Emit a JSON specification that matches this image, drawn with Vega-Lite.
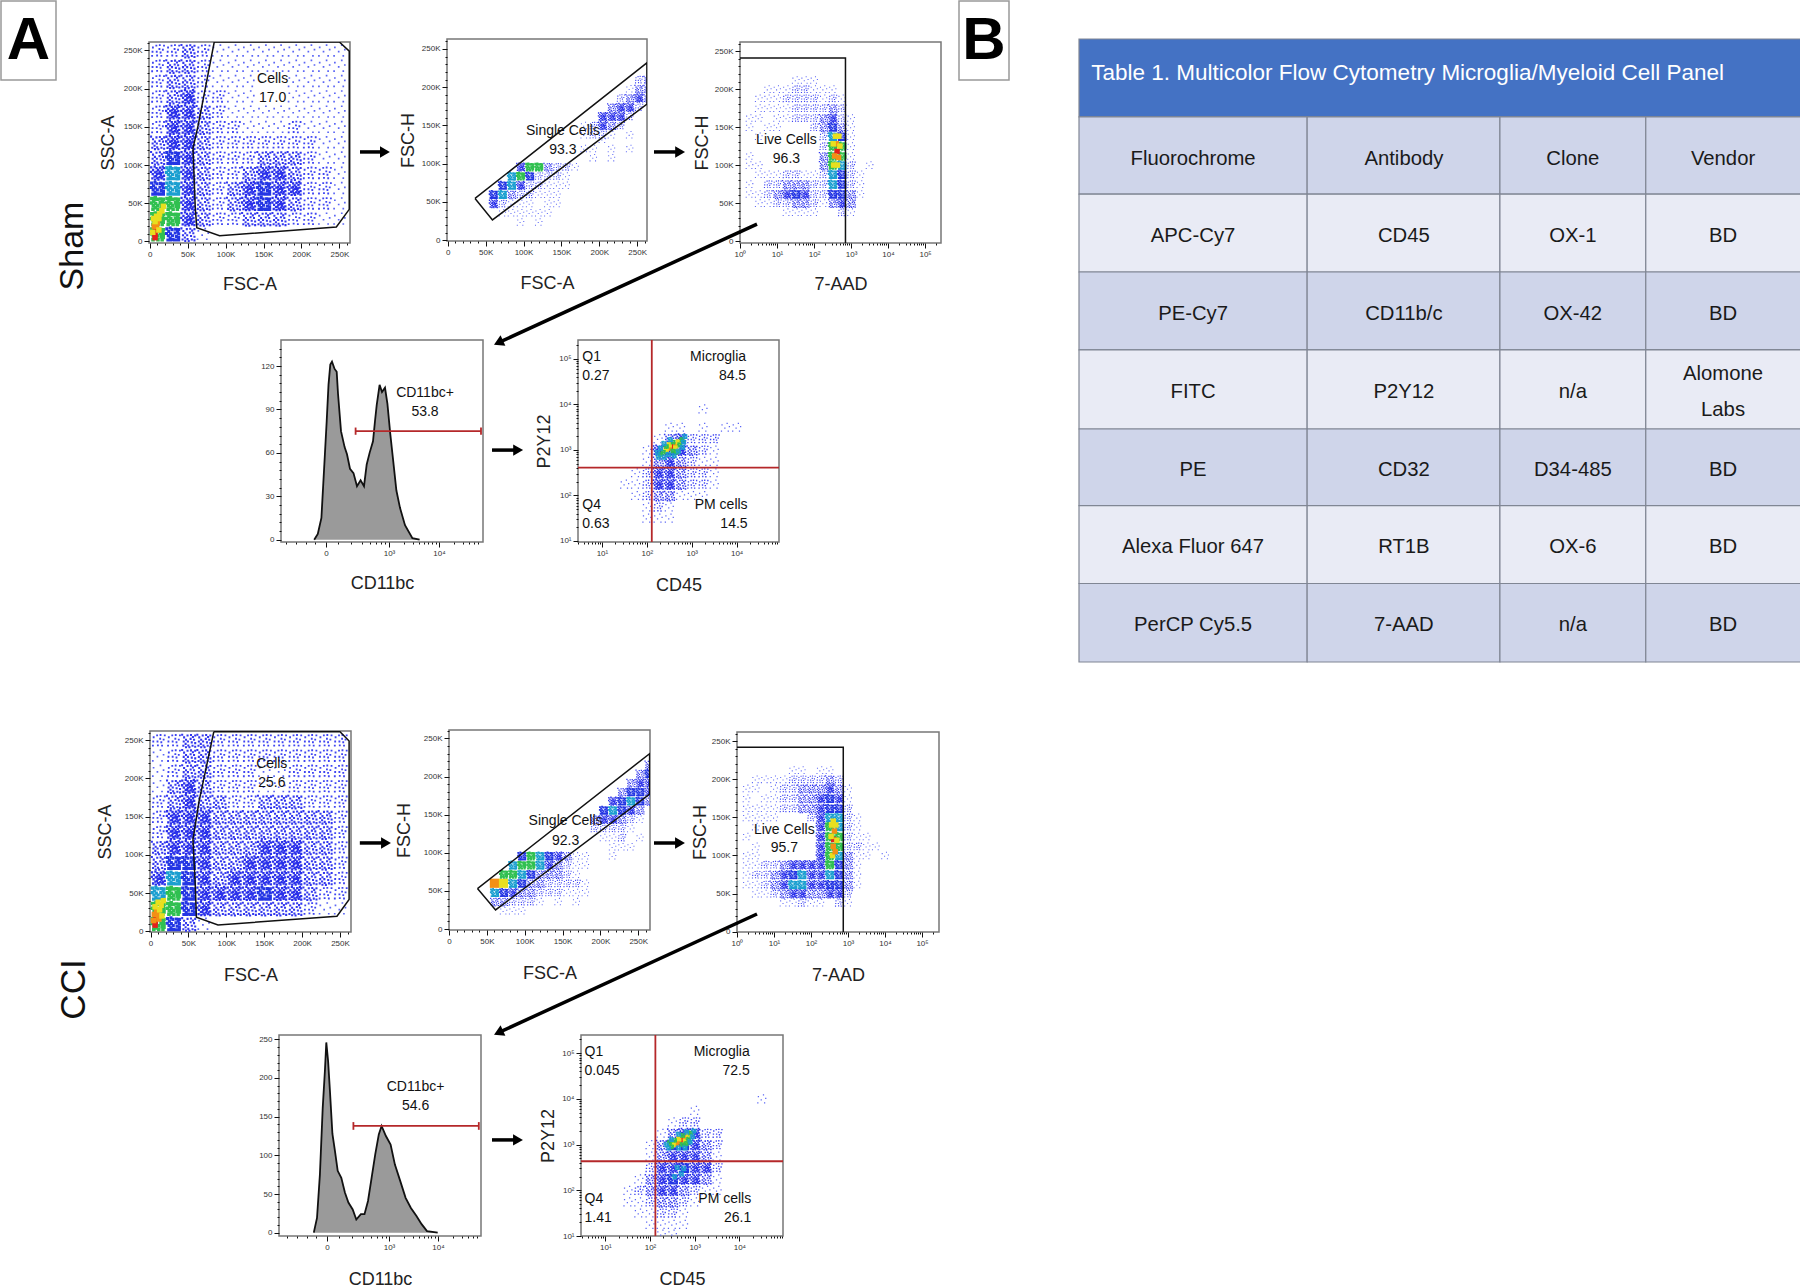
{"$schema":"https://vega.github.io/schema/vega-lite/v6.json","padding":0,"bounds":"flush","spacing":0,
"config":{"view":{"stroke":null},"text":{"font":"Liberation Sans"},"axis":{"grid":false,"domain":false,"labelFont":"Liberation Sans","labelFontSize":8,"labelColor":"#333","labelPadding":2,"labelOverlap":false,"labelFlush":false,"tickColor":"#111","titleFont":"Liberation Sans","titleFontSize":18,"titleFontWeight":"normal","titleColor":"#222"},
"range":{"ordinal":["#5b66f5","#3f45f2","#3338ee","#2a30ea","#2436e4","#1b9fd0","#30c050","#e8df1f","#f39016","#e5201c"],
"symbol":["M-.7 -.5h.22v.22h-.22zM.2 -.8h.22v.22h-.22zM.6 -.2h.22v.22h-.22zM-.2 .05h.22v.22h-.22zM-.8 .6h.22v.22h-.22zM.4 .6h.22v.22h-.22z",
"M-.7 -.5h.24v.24h-.24zM.2 -.8h.24v.24h-.24zM.6 -.2h.24v.24h-.24zM-.2 .05h.24v.24h-.24zM-.8 .6h.24v.24h-.24zM.4 .6h.24v.24h-.24zM-.25 -.75h.24v.24h-.24zM.15 -.3h.24v.24h-.24zM.75 -.75h.24v.24h-.24zM-.75 .05h.24v.24h-.24zM-.15 .55h.24v.24h-.24zM.3 .15h.24v.24h-.24z",
"M-.7 -.5h.27v.27h-.27zM.2 -.8h.27v.27h-.27zM.6 -.2h.27v.27h-.27zM-.2 .05h.27v.27h-.27zM-.8 .6h.27v.27h-.27zM.4 .6h.27v.27h-.27zM-.25 -.75h.27v.27h-.27zM.15 -.3h.27v.27h-.27zM.75 -.75h.27v.27h-.27zM-.75 .05h.27v.27h-.27zM-.15 .55h.27v.27h-.27zM.3 .15h.27v.27h-.27zM-.45 -.2h.27v.27h-.27zM.45 -.55h.27v.27h-.27zM-.5 .35h.27v.27h-.27zM.75 .25h.27v.27h-.27zM-.95 -.85h.27v.27h-.27zM0 .8h.27v.27h-.27zM.75 .72h.27v.27h-.27zM-.45 .78h.27v.27h-.27z",
"M-.7 -.5h.3v.3h-.3zM.2 -.8h.3v.3h-.3zM.6 -.2h.3v.3h-.3zM-.2 .05h.3v.3h-.3zM-.8 .6h.3v.3h-.3zM.4 .6h.3v.3h-.3zM-.25 -.75h.3v.3h-.3zM.15 -.3h.3v.3h-.3zM.72 -.75h.3v.3h-.3zM-.75 .05h.3v.3h-.3zM-.15 .55h.3v.3h-.3zM.3 .15h.3v.3h-.3zM-.45 -.2h.3v.3h-.3zM.45 -.55h.3v.3h-.3zM-.5 .35h.3v.3h-.3zM.72 .25h.3v.3h-.3zM-.95 -.85h.3v.3h-.3zM0 .75h.3v.3h-.3zM.72 .72h.3v.3h-.3zM-.45 .75h.3v.3h-.3zM-.05 -.5h.3v.3h-.3zM.5 .38h.3v.3h-.3zM-.98 -.25h.3v.3h-.3zM-.5 -.95h.3v.3h-.3zM.05 -.02h.3v.3h-.3zM-.3 .3h.3v.3h-.3zM.15 .42h.3v.3h-.3zM.55 -.95h.3v.3h-.3zM.35 -.1h.3v.3h-.3zM-.25 -.3h.3v.3h-.3z",
"M-.7 -.5h.4v.4h-.4zM.2 -.8h.4v.4h-.4zM.6 -.2h.4v.4h-.4zM-.2 .05h.4v.4h-.4zM-.8 .6h.4v.4h-.4zM.4 .6h.4v.4h-.4zM-.25 -.75h.4v.4h-.4zM.15 -.3h.4v.4h-.4zM.6 -.75h.4v.4h-.4zM-.75 .05h.4v.4h-.4zM-.15 .55h.4v.4h-.4zM.3 .15h.4v.4h-.4zM-.45 -.2h.4v.4h-.4zM.45 -.55h.4v.4h-.4zM-.5 .35h.4v.4h-.4zM.6 .25h.4v.4h-.4zM-.95 -.85h.4v.4h-.4zM0 .6h.4v.4h-.4zM.6 .6h.4v.4h-.4zM-.45 .6h.4v.4h-.4zM-.98 -.25h.4v.4h-.4zM-.5 -.95h.4v.4h-.4z",
"M-.7 -.5h.42v.42h-.42zM.2 -.8h.42v.42h-.42zM.6 -.2h.42v.42h-.42zM-.2 .05h.42v.42h-.42zM-.8 .6h.42v.42h-.42zM.4 .6h.42v.42h-.42zM-.25 -.75h.42v.42h-.42zM.15 -.3h.42v.42h-.42zM.58 -.75h.42v.42h-.42zM-.75 .05h.42v.42h-.42zM-.15 .55h.42v.42h-.42zM.3 .15h.42v.42h-.42zM-.45 -.2h.42v.42h-.42zM.45 -.55h.42v.42h-.42zM-.5 .35h.42v.42h-.42zM.58 .25h.42v.42h-.42zM-.95 -.85h.42v.42h-.42zM0 .58h.42v.42h-.42zM.58 .58h.42v.42h-.42zM-.45 .58h.42v.42h-.42zM-.98 -.25h.42v.42h-.42zM-.5 -.95h.42v.42h-.42z",
"M-.7 -.5h.46v.46h-.46zM.2 -.8h.46v.46h-.46zM.54 -.2h.46v.46h-.46zM-.2 .05h.46v.46h-.46zM-.8 .54h.46v.46h-.46zM.4 .54h.46v.46h-.46zM-.25 -.75h.46v.46h-.46zM.15 -.3h.46v.46h-.46zM.54 -.75h.46v.46h-.46zM-.75 .05h.46v.46h-.46zM-.15 .54h.46v.46h-.46zM.3 .15h.46v.46h-.46zM-.45 -.2h.46v.46h-.46zM.45 -.55h.46v.46h-.46zM-.5 .35h.46v.46h-.46zM.54 .25h.46v.46h-.46zM-.95 -.85h.46v.46h-.46zM-.98 -.25h.46v.46h-.46zM-.5 -.95h.46v.46h-.46z",
"square","square","square"]}},
"datasets":{
"s1":[{"x":10,"y":250,"d":2},{"x":30,"y":250,"d":2},{"x":50,"y":250,"d":3},{"x":70,"y":250,"d":2},{"x":90,"y":250,"d":1},{"x":110,"y":250,"d":1},{"x":130,"y":250,"d":1},{"x":150,"y":250,"d":1},{"x":170,"y":250,"d":1},{"x":190,"y":250,"d":1},{"x":210,"y":250,"d":1},{"x":230,"y":250,"d":1},{"x":250,"y":250,"d":1},
{"x":10,"y":230,"d":2},{"x":30,"y":230,"d":3},{"x":50,"y":230,"d":3},{"x":70,"y":230,"d":2},{"x":90,"y":230,"d":1},{"x":110,"y":230,"d":1},{"x":130,"y":230,"d":1},{"x":150,"y":230,"d":1},{"x":170,"y":230,"d":1},{"x":190,"y":230,"d":1},{"x":210,"y":230,"d":1},{"x":230,"y":230,"d":1},{"x":250,"y":230,"d":1},
{"x":10,"y":210,"d":2},{"x":30,"y":210,"d":3},{"x":50,"y":210,"d":3},{"x":70,"y":210,"d":2},{"x":90,"y":210,"d":1},{"x":110,"y":210,"d":1},{"x":130,"y":210,"d":1},{"x":190,"y":210,"d":1},{"x":210,"y":210,"d":1},{"x":230,"y":210,"d":1},{"x":250,"y":210,"d":1},
{"x":10,"y":190,"d":2},{"x":30,"y":190,"d":3},{"x":50,"y":190,"d":4},{"x":70,"y":190,"d":2},{"x":90,"y":190,"d":2},{"x":110,"y":190,"d":1},{"x":130,"y":190,"d":1},{"x":190,"y":190,"d":1},{"x":210,"y":190,"d":1},{"x":230,"y":190,"d":1},{"x":250,"y":190,"d":1},
{"x":10,"y":170,"d":2},{"x":30,"y":170,"d":4},{"x":50,"y":170,"d":4},{"x":70,"y":170,"d":3},{"x":90,"y":170,"d":2},{"x":110,"y":170,"d":1},{"x":130,"y":170,"d":1},{"x":150,"y":170,"d":1},{"x":170,"y":170,"d":1},{"x":190,"y":170,"d":1},{"x":210,"y":170,"d":1},{"x":230,"y":170,"d":1},{"x":250,"y":170,"d":1},
{"x":10,"y":150,"d":2},{"x":30,"y":150,"d":4},{"x":50,"y":150,"d":4},{"x":70,"y":150,"d":3},{"x":90,"y":150,"d":2},{"x":110,"y":150,"d":2},{"x":130,"y":150,"d":1},{"x":150,"y":150,"d":1},{"x":170,"y":150,"d":1},{"x":190,"y":150,"d":2},{"x":210,"y":150,"d":1},{"x":230,"y":150,"d":1},{"x":250,"y":150,"d":1},
{"x":10,"y":130,"d":3},{"x":30,"y":130,"d":4},{"x":50,"y":130,"d":4},{"x":70,"y":130,"d":3},{"x":90,"y":130,"d":2},{"x":110,"y":130,"d":2},{"x":130,"y":130,"d":2},{"x":150,"y":130,"d":2},{"x":170,"y":130,"d":2},{"x":190,"y":130,"d":2},{"x":210,"y":130,"d":2},{"x":230,"y":130,"d":1},{"x":250,"y":130,"d":1},
{"x":10,"y":110,"d":3},{"x":30,"y":110,"d":5},{"x":50,"y":110,"d":4},{"x":70,"y":110,"d":3},{"x":90,"y":110,"d":2},{"x":110,"y":110,"d":2},{"x":130,"y":110,"d":2},{"x":150,"y":110,"d":3},{"x":170,"y":110,"d":3},{"x":190,"y":110,"d":3},{"x":210,"y":110,"d":2},{"x":230,"y":110,"d":1},{"x":250,"y":110,"d":1},
{"x":10,"y":90,"d":4},{"x":30,"y":90,"d":6},{"x":50,"y":90,"d":4},{"x":70,"y":90,"d":3},{"x":90,"y":90,"d":2},{"x":110,"y":90,"d":2},{"x":130,"y":90,"d":3},{"x":150,"y":90,"d":4},{"x":170,"y":90,"d":4},{"x":190,"y":90,"d":3},{"x":210,"y":90,"d":2},{"x":230,"y":90,"d":2},{"x":250,"y":90,"d":1},
{"x":10,"y":70,"d":5},{"x":30,"y":70,"d":6},{"x":50,"y":70,"d":4},{"x":70,"y":70,"d":3},{"x":90,"y":70,"d":2},{"x":110,"y":70,"d":3},{"x":130,"y":70,"d":4},{"x":150,"y":70,"d":5},{"x":170,"y":70,"d":4},{"x":190,"y":70,"d":4},{"x":210,"y":70,"d":2},{"x":230,"y":70,"d":2},{"x":250,"y":70,"d":1},
{"x":10,"y":50,"d":7},{"x":30,"y":50,"d":7},{"x":50,"y":50,"d":4},{"x":70,"y":50,"d":3},{"x":90,"y":50,"d":2},{"x":110,"y":50,"d":3},{"x":130,"y":50,"d":4},{"x":150,"y":50,"d":5},{"x":170,"y":50,"d":4},{"x":190,"y":50,"d":3},{"x":210,"y":50,"d":2},{"x":230,"y":50,"d":2},{"x":250,"y":50,"d":1},
{"x":10,"y":30,"d":7},{"x":30,"y":30,"d":7},{"x":50,"y":30,"d":4},{"x":70,"y":30,"d":3},{"x":90,"y":30,"d":2},{"x":110,"y":30,"d":2},{"x":130,"y":30,"d":3},{"x":150,"y":30,"d":3},{"x":170,"y":30,"d":3},{"x":190,"y":30,"d":2},{"x":210,"y":30,"d":2},{"x":230,"y":30,"d":1},{"x":250,"y":30,"d":1},
{"x":10,"y":10,"d":7},{"x":30,"y":10,"d":5},{"x":50,"y":10,"d":3},{"x":70,"y":10,"d":1}],
"s1c":[{"x":7,"y":5,"d":10},{"x":7,"y":10,"d":10},{"x":8,"y":15,"d":10},{"x":6,"y":20,"d":9},{"x":9,"y":20,"d":9},{"x":10,"y":25,"d":9},{"x":7,"y":26,"d":8},{"x":12,"y":30,"d":8},{"x":9,"y":33,"d":8},{"x":13,"y":36,"d":8},{"x":16,"y":40,"d":8},{"x":18,"y":46,"d":8},{"x":12,"y":15,"d":8},{"x":4,"y":12,"d":8},{"x":5,"y":30,"d":8}],
"c1":[{"x":10,"y":250,"d":2},{"x":30,"y":250,"d":2},{"x":50,"y":250,"d":3},{"x":70,"y":250,"d":3},{"x":90,"y":250,"d":2},{"x":110,"y":250,"d":2},{"x":130,"y":250,"d":2},{"x":150,"y":250,"d":2},{"x":170,"y":250,"d":2},{"x":190,"y":250,"d":2},{"x":210,"y":250,"d":2},{"x":230,"y":250,"d":2},{"x":250,"y":250,"d":2},
{"x":10,"y":230,"d":1},{"x":30,"y":230,"d":2},{"x":50,"y":230,"d":3},{"x":70,"y":230,"d":3},{"x":90,"y":230,"d":2},{"x":110,"y":230,"d":2},{"x":130,"y":230,"d":2},{"x":150,"y":230,"d":2},{"x":170,"y":230,"d":2},{"x":190,"y":230,"d":2},{"x":210,"y":230,"d":2},{"x":230,"y":230,"d":2},{"x":250,"y":230,"d":2},
{"x":10,"y":210,"d":1},{"x":30,"y":210,"d":2},{"x":50,"y":210,"d":3},{"x":70,"y":210,"d":3},{"x":90,"y":210,"d":2},{"x":110,"y":210,"d":2},{"x":130,"y":210,"d":2},{"x":150,"y":210,"d":1},{"x":170,"y":210,"d":1},{"x":190,"y":210,"d":2},{"x":210,"y":210,"d":2},{"x":230,"y":210,"d":2},{"x":250,"y":210,"d":2},
{"x":10,"y":190,"d":1},{"x":30,"y":190,"d":3},{"x":50,"y":190,"d":4},{"x":70,"y":190,"d":3},{"x":90,"y":190,"d":2},{"x":110,"y":190,"d":2},{"x":130,"y":190,"d":2},{"x":150,"y":190,"d":1},{"x":170,"y":190,"d":1},{"x":190,"y":190,"d":2},{"x":210,"y":190,"d":2},{"x":230,"y":190,"d":2},{"x":250,"y":190,"d":2},
{"x":10,"y":170,"d":2},{"x":30,"y":170,"d":3},{"x":50,"y":170,"d":4},{"x":70,"y":170,"d":3},{"x":90,"y":170,"d":3},{"x":110,"y":170,"d":2},{"x":130,"y":170,"d":2},{"x":150,"y":170,"d":3},{"x":170,"y":170,"d":3},{"x":190,"y":170,"d":3},{"x":210,"y":170,"d":2},{"x":230,"y":170,"d":2},{"x":250,"y":170,"d":2},
{"x":10,"y":150,"d":2},{"x":30,"y":150,"d":4},{"x":50,"y":150,"d":4},{"x":70,"y":150,"d":4},{"x":90,"y":150,"d":3},{"x":110,"y":150,"d":3},{"x":130,"y":150,"d":3},{"x":150,"y":150,"d":3},{"x":170,"y":150,"d":3},{"x":190,"y":150,"d":3},{"x":210,"y":150,"d":3},{"x":230,"y":150,"d":3},{"x":250,"y":150,"d":2},
{"x":10,"y":130,"d":2},{"x":30,"y":130,"d":4},{"x":50,"y":130,"d":4},{"x":70,"y":130,"d":4},{"x":90,"y":130,"d":3},{"x":110,"y":130,"d":3},{"x":130,"y":130,"d":3},{"x":150,"y":130,"d":3},{"x":170,"y":130,"d":3},{"x":190,"y":130,"d":3},{"x":210,"y":130,"d":3},{"x":230,"y":130,"d":3},{"x":250,"y":130,"d":2},
{"x":10,"y":110,"d":3},{"x":30,"y":110,"d":4},{"x":50,"y":110,"d":4},{"x":70,"y":110,"d":4},{"x":90,"y":110,"d":3},{"x":110,"y":110,"d":3},{"x":130,"y":110,"d":3},{"x":150,"y":110,"d":4},{"x":170,"y":110,"d":4},{"x":190,"y":110,"d":4},{"x":210,"y":110,"d":3},{"x":230,"y":110,"d":3},{"x":250,"y":110,"d":2},
{"x":10,"y":90,"d":3},{"x":30,"y":90,"d":5},{"x":50,"y":90,"d":5},{"x":70,"y":90,"d":4},{"x":90,"y":90,"d":3},{"x":110,"y":90,"d":3},{"x":130,"y":90,"d":4},{"x":150,"y":90,"d":4},{"x":170,"y":90,"d":4},{"x":190,"y":90,"d":4},{"x":210,"y":90,"d":3},{"x":230,"y":90,"d":3},{"x":250,"y":90,"d":2},
{"x":10,"y":70,"d":4},{"x":30,"y":70,"d":6},{"x":50,"y":70,"d":5},{"x":70,"y":70,"d":4},{"x":90,"y":70,"d":3},{"x":110,"y":70,"d":4},{"x":130,"y":70,"d":4},{"x":150,"y":70,"d":4},{"x":170,"y":70,"d":4},{"x":190,"y":70,"d":4},{"x":210,"y":70,"d":3},{"x":230,"y":70,"d":3},{"x":250,"y":70,"d":2},
{"x":10,"y":50,"d":6},{"x":30,"y":50,"d":7},{"x":50,"y":50,"d":5},{"x":70,"y":50,"d":4},{"x":90,"y":50,"d":4},{"x":110,"y":50,"d":4},{"x":130,"y":50,"d":4},{"x":150,"y":50,"d":5},{"x":170,"y":50,"d":4},{"x":190,"y":50,"d":4},{"x":210,"y":50,"d":3},{"x":230,"y":50,"d":2},{"x":250,"y":50,"d":2},
{"x":10,"y":30,"d":7},{"x":30,"y":30,"d":7},{"x":50,"y":30,"d":5},{"x":70,"y":30,"d":4},{"x":90,"y":30,"d":3},{"x":110,"y":30,"d":3},{"x":130,"y":30,"d":3},{"x":150,"y":30,"d":3},{"x":170,"y":30,"d":3},{"x":190,"y":30,"d":3},{"x":210,"y":30,"d":2},{"x":230,"y":30,"d":1},{"x":250,"y":30,"d":1},
{"x":10,"y":10,"d":7},{"x":30,"y":10,"d":5},{"x":50,"y":10,"d":3},{"x":70,"y":10,"d":1}],
"c1c":[{"x":6,"y":8,"d":10},{"x":6,"y":13,"d":10},{"x":7,"y":18,"d":10},{"x":5,"y":22,"d":9},{"x":9,"y":22,"d":9},{"x":8,"y":28,"d":9},{"x":11,"y":16,"d":9},{"x":12,"y":28,"d":8},{"x":6,"y":32,"d":8},{"x":14,"y":34,"d":8},{"x":10,"y":38,"d":8},{"x":17,"y":40,"d":8},{"x":4,"y":14,"d":9},{"x":15,"y":20,"d":8}],
"s2":[{"x":96,"y":24,"d":1},{"x":120,"y":24,"d":1},{"x":72,"y":36,"d":1},{"x":84,"y":36,"d":1},{"x":96,"y":36,"d":1},{"x":108,"y":36,"d":1},{"x":120,"y":36,"d":1},{"x":132,"y":36,"d":1},
{"x":60,"y":48,"d":4},{"x":72,"y":48,"d":2},{"x":84,"y":48,"d":1},{"x":96,"y":48,"d":1},{"x":108,"y":48,"d":1},{"x":132,"y":48,"d":1},{"x":144,"y":48,"d":1},
{"x":60,"y":60,"d":5},{"x":72,"y":60,"d":6},{"x":84,"y":60,"d":3},{"x":96,"y":60,"d":2},{"x":108,"y":60,"d":2},{"x":120,"y":60,"d":1},{"x":132,"y":60,"d":1},{"x":144,"y":60,"d":1},
{"x":72,"y":72,"d":5},{"x":84,"y":72,"d":6},{"x":96,"y":72,"d":4},{"x":108,"y":72,"d":2},{"x":120,"y":72,"d":2},{"x":132,"y":72,"d":1},{"x":144,"y":72,"d":1},{"x":156,"y":72,"d":1},
{"x":84,"y":84,"d":6},{"x":96,"y":84,"d":7},{"x":108,"y":84,"d":5},{"x":120,"y":84,"d":2},{"x":132,"y":84,"d":2},{"x":144,"y":84,"d":2},{"x":156,"y":84,"d":1},
{"x":96,"y":96,"d":4},{"x":108,"y":96,"d":7},{"x":120,"y":96,"d":7},{"x":132,"y":96,"d":3},{"x":144,"y":96,"d":2},{"x":156,"y":96,"d":2},{"x":168,"y":96,"d":1},
{"x":192,"y":108,"d":1},{"x":216,"y":108,"d":1},{"x":180,"y":120,"d":1},{"x":192,"y":120,"d":1},{"x":216,"y":120,"d":1},{"x":240,"y":120,"d":1},
{"x":204,"y":132,"d":1},{"x":180,"y":138,"d":1},{"x":192,"y":138,"d":2},{"x":204,"y":138,"d":2},{"x":216,"y":138,"d":1},{"x":240,"y":138,"d":1},
{"x":180,"y":150,"d":1},{"x":192,"y":150,"d":2},{"x":204,"y":150,"d":4},{"x":216,"y":150,"d":3},{"x":228,"y":150,"d":2},
{"x":204,"y":162,"d":4},{"x":216,"y":162,"d":4},{"x":228,"y":162,"d":4},{"x":240,"y":162,"d":2},
{"x":216,"y":174,"d":3},{"x":228,"y":174,"d":4},{"x":240,"y":174,"d":4},{"x":252,"y":174,"d":2},
{"x":228,"y":186,"d":2},{"x":240,"y":186,"d":3},{"x":252,"y":186,"d":4},{"x":264,"y":186,"d":3},
{"x":240,"y":198,"d":1},{"x":252,"y":198,"d":3},{"x":264,"y":198,"d":3},{"x":252,"y":210,"d":2},{"x":264,"y":210,"d":3}],
"c2":[{"x":72,"y":24,"d":1},{"x":84,"y":24,"d":1},{"x":96,"y":24,"d":1},
{"x":60,"y":36,"d":3},{"x":72,"y":36,"d":3},{"x":84,"y":36,"d":2},{"x":96,"y":36,"d":2},{"x":108,"y":36,"d":2},{"x":120,"y":36,"d":1},{"x":144,"y":36,"d":1},{"x":168,"y":36,"d":1},
{"x":60,"y":48,"d":6},{"x":72,"y":48,"d":5},{"x":84,"y":48,"d":4},{"x":96,"y":48,"d":3},{"x":108,"y":48,"d":3},{"x":120,"y":48,"d":2},{"x":132,"y":48,"d":2},{"x":144,"y":48,"d":2},{"x":156,"y":48,"d":1},{"x":168,"y":48,"d":1},{"x":180,"y":48,"d":1},
{"x":60,"y":60,"d":9},{"x":72,"y":60,"d":8},{"x":84,"y":60,"d":6},{"x":96,"y":60,"d":5},{"x":108,"y":60,"d":3},{"x":120,"y":60,"d":3},{"x":132,"y":60,"d":2},{"x":144,"y":60,"d":2},{"x":156,"y":60,"d":2},{"x":168,"y":60,"d":2},{"x":180,"y":60,"d":1},
{"x":72,"y":72,"d":7},{"x":84,"y":72,"d":7},{"x":96,"y":72,"d":6},{"x":108,"y":72,"d":5},{"x":120,"y":72,"d":3},{"x":132,"y":72,"d":3},{"x":144,"y":72,"d":3},{"x":156,"y":72,"d":2},{"x":168,"y":72,"d":1},
{"x":84,"y":84,"d":6},{"x":96,"y":84,"d":7},{"x":108,"y":84,"d":7},{"x":120,"y":84,"d":6},{"x":132,"y":84,"d":4},{"x":144,"y":84,"d":3},{"x":156,"y":84,"d":2},{"x":168,"y":84,"d":1},{"x":180,"y":84,"d":1},
{"x":96,"y":96,"d":5},{"x":108,"y":96,"d":7},{"x":120,"y":96,"d":6},{"x":132,"y":96,"d":5},{"x":144,"y":96,"d":4},{"x":156,"y":96,"d":3},{"x":168,"y":96,"d":1},{"x":180,"y":96,"d":1},{"x":216,"y":96,"d":1},
{"x":216,"y":108,"d":1},{"x":228,"y":108,"d":1},{"x":240,"y":108,"d":1},
{"x":204,"y":120,"d":1},{"x":216,"y":120,"d":1},{"x":228,"y":120,"d":2},{"x":252,"y":120,"d":1},
{"x":192,"y":132,"d":2},{"x":204,"y":132,"d":2},{"x":216,"y":132,"d":2},{"x":228,"y":132,"d":2},{"x":240,"y":132,"d":1},
{"x":192,"y":144,"d":3},{"x":204,"y":144,"d":4},{"x":216,"y":144,"d":4},{"x":228,"y":144,"d":3},{"x":240,"y":144,"d":2},{"x":252,"y":144,"d":1},
{"x":204,"y":156,"d":5},{"x":216,"y":156,"d":6},{"x":228,"y":156,"d":5},{"x":240,"y":156,"d":4},{"x":252,"y":156,"d":3},
{"x":216,"y":168,"d":4},{"x":228,"y":168,"d":5},{"x":240,"y":168,"d":6},{"x":252,"y":168,"d":5},{"x":264,"y":168,"d":3},
{"x":228,"y":180,"d":3},{"x":240,"y":180,"d":5},{"x":252,"y":180,"d":5},{"x":264,"y":180,"d":4},
{"x":240,"y":192,"d":3},{"x":252,"y":192,"d":4},{"x":264,"y":192,"d":4},{"x":252,"y":204,"d":3},{"x":264,"y":204,"d":5},{"x":264,"y":216,"d":3}],
"s3":[{"x":32,"y":212,"d":1},{"x":56,"y":212,"d":1},{"x":100,"y":212,"d":1},
{"x":5.6,"y":200,"d":1},{"x":10,"y":200,"d":1},{"x":18,"y":200,"d":1},{"x":32,"y":200,"d":2},{"x":56,"y":200,"d":2},{"x":100,"y":200,"d":1},{"x":178,"y":200,"d":1},{"x":316,"y":200,"d":1},
{"x":3.2,"y":188,"d":1},{"x":5.6,"y":188,"d":1},{"x":10,"y":188,"d":1},{"x":18,"y":188,"d":2},{"x":32,"y":188,"d":2},{"x":56,"y":188,"d":2},{"x":100,"y":188,"d":2},{"x":178,"y":188,"d":1},{"x":316,"y":188,"d":2},{"x":562,"y":188,"d":1},
{"x":3.2,"y":175,"d":1},{"x":5.6,"y":175,"d":1},{"x":10,"y":175,"d":1},{"x":18,"y":175,"d":1},{"x":32,"y":175,"d":2},{"x":56,"y":175,"d":2},{"x":100,"y":175,"d":2},{"x":178,"y":175,"d":2},{"x":316,"y":175,"d":3},{"x":562,"y":175,"d":2},
{"x":1.8,"y":162,"d":1},{"x":3.2,"y":162,"d":1},{"x":10,"y":162,"d":1},{"x":18,"y":162,"d":1},{"x":32,"y":162,"d":2},{"x":56,"y":162,"d":2},{"x":100,"y":162,"d":2},{"x":178,"y":162,"d":3},{"x":316,"y":162,"d":4},{"x":562,"y":162,"d":2},{"x":1000,"y":162,"d":1},
{"x":1.8,"y":150,"d":1},{"x":5.6,"y":150,"d":1},{"x":10,"y":150,"d":1},{"x":100,"y":150,"d":2},{"x":178,"y":150,"d":3},{"x":316,"y":150,"d":5},{"x":562,"y":150,"d":3},{"x":1000,"y":150,"d":1},
{"x":3.2,"y":138,"d":1},{"x":178,"y":138,"d":2},{"x":316,"y":138,"d":6},{"x":562,"y":138,"d":5},{"x":1000,"y":138,"d":1},
{"x":178,"y":125,"d":2},{"x":316,"y":125,"d":7},{"x":562,"y":125,"d":7},{"x":1000,"y":125,"d":1},
{"x":1.8,"y":112,"d":1},{"x":178,"y":112,"d":3},{"x":316,"y":112,"d":7},{"x":562,"y":112,"d":7},{"x":1000,"y":112,"d":1},
{"x":1.8,"y":100,"d":1},{"x":3.2,"y":100,"d":1},{"x":178,"y":100,"d":3},{"x":316,"y":100,"d":7},{"x":562,"y":100,"d":6},{"x":1000,"y":100,"d":2},{"x":3162,"y":100,"d":1},
{"x":3.2,"y":88,"d":1},{"x":5.6,"y":88,"d":1},{"x":10,"y":88,"d":1},{"x":18,"y":88,"d":2},{"x":32,"y":88,"d":2},{"x":56,"y":88,"d":1},{"x":100,"y":88,"d":1},{"x":178,"y":88,"d":2},{"x":316,"y":88,"d":6},{"x":562,"y":88,"d":5},{"x":1000,"y":88,"d":2},{"x":1778,"y":88,"d":1},
{"x":1.8,"y":75,"d":1},{"x":5.6,"y":75,"d":2},{"x":10,"y":75,"d":2},{"x":18,"y":75,"d":3},{"x":32,"y":75,"d":3},{"x":56,"y":75,"d":3},{"x":100,"y":75,"d":2},{"x":178,"y":75,"d":2},{"x":316,"y":75,"d":6},{"x":562,"y":75,"d":5},{"x":1000,"y":75,"d":2},{"x":1778,"y":75,"d":1},
{"x":1.8,"y":62,"d":1},{"x":3.2,"y":62,"d":1},{"x":5.6,"y":62,"d":2},{"x":10,"y":62,"d":3},{"x":18,"y":62,"d":4},{"x":32,"y":62,"d":5},{"x":56,"y":62,"d":4},{"x":100,"y":62,"d":2},{"x":178,"y":62,"d":2},{"x":316,"y":62,"d":5},{"x":562,"y":62,"d":5},{"x":1000,"y":62,"d":3},{"x":1778,"y":62,"d":1},
{"x":3.2,"y":50,"d":1},{"x":5.6,"y":50,"d":1},{"x":10,"y":50,"d":2},{"x":18,"y":50,"d":2},{"x":32,"y":50,"d":3},{"x":56,"y":50,"d":3},{"x":100,"y":50,"d":2},{"x":178,"y":50,"d":1},{"x":316,"y":50,"d":3},{"x":562,"y":50,"d":4},{"x":1000,"y":50,"d":3},
{"x":18,"y":38,"d":1},{"x":32,"y":38,"d":1},{"x":56,"y":38,"d":1},{"x":100,"y":38,"d":1},{"x":562,"y":38,"d":2},{"x":1000,"y":38,"d":1}],
"s3c":[{"x":420,"y":118,"d":10},{"x":400,"y":128,"d":9},{"x":460,"y":110,"d":9},{"x":430,"y":100,"d":8},{"x":380,"y":138,"d":8},{"x":500,"y":125,"d":8},{"x":360,"y":112,"d":9},{"x":330,"y":128,"d":8},{"x":470,"y":138,"d":8},{"x":340,"y":100,"d":8}],
"c3":[{"x":32,"y":212,"d":1},{"x":56,"y":212,"d":1},{"x":178,"y":212,"d":1},{"x":316,"y":212,"d":1},
{"x":3.2,"y":200,"d":1},{"x":5.6,"y":200,"d":1},{"x":10,"y":200,"d":1},{"x":18,"y":200,"d":1},{"x":32,"y":200,"d":2},{"x":56,"y":200,"d":2},{"x":100,"y":200,"d":2},{"x":178,"y":200,"d":2},{"x":316,"y":200,"d":3},{"x":562,"y":200,"d":2},
{"x":1.8,"y":188,"d":1},{"x":3.2,"y":188,"d":1},{"x":10,"y":188,"d":1},{"x":18,"y":188,"d":2},{"x":32,"y":188,"d":2},{"x":56,"y":188,"d":3},{"x":100,"y":188,"d":3},{"x":178,"y":188,"d":3},{"x":316,"y":188,"d":4},{"x":562,"y":188,"d":3},{"x":1000,"y":188,"d":1},
{"x":1.8,"y":175,"d":1},{"x":5.6,"y":175,"d":1},{"x":10,"y":175,"d":1},{"x":18,"y":175,"d":2},{"x":32,"y":175,"d":2},{"x":56,"y":175,"d":3},{"x":100,"y":175,"d":3},{"x":178,"y":175,"d":4},{"x":316,"y":175,"d":5},{"x":562,"y":175,"d":4},{"x":1000,"y":175,"d":1},
{"x":1.8,"y":162,"d":1},{"x":3.2,"y":162,"d":1},{"x":5.6,"y":162,"d":1},{"x":10,"y":162,"d":1},{"x":18,"y":162,"d":2},{"x":32,"y":162,"d":2},{"x":56,"y":162,"d":3},{"x":100,"y":162,"d":3},{"x":178,"y":162,"d":4},{"x":316,"y":162,"d":5},{"x":562,"y":162,"d":5},{"x":1000,"y":162,"d":2},
{"x":1.8,"y":150,"d":1},{"x":3.2,"y":150,"d":1},{"x":5.6,"y":150,"d":1},{"x":10,"y":150,"d":1},{"x":100,"y":150,"d":2},{"x":178,"y":150,"d":4},{"x":316,"y":150,"d":6},{"x":562,"y":150,"d":6},{"x":1000,"y":150,"d":2},{"x":1778,"y":150,"d":1},
{"x":3.2,"y":138,"d":1},{"x":178,"y":138,"d":4},{"x":316,"y":138,"d":7},{"x":562,"y":138,"d":6},{"x":1000,"y":138,"d":2},{"x":1778,"y":138,"d":1},
{"x":1.8,"y":125,"d":1},{"x":178,"y":125,"d":4},{"x":316,"y":125,"d":7},{"x":562,"y":125,"d":7},{"x":1000,"y":125,"d":2},{"x":1778,"y":125,"d":1},{"x":3162,"y":125,"d":1},
{"x":3.2,"y":112,"d":1},{"x":178,"y":112,"d":4},{"x":316,"y":112,"d":7},{"x":562,"y":112,"d":7},{"x":1000,"y":112,"d":2},{"x":1778,"y":112,"d":2},{"x":3162,"y":112,"d":1},{"x":5623,"y":112,"d":1},
{"x":1.8,"y":100,"d":1},{"x":3.2,"y":100,"d":1},{"x":178,"y":100,"d":4},{"x":316,"y":100,"d":7},{"x":562,"y":100,"d":6},{"x":1000,"y":100,"d":3},{"x":1778,"y":100,"d":1},{"x":3162,"y":100,"d":1},{"x":10000,"y":100,"d":1},
{"x":1.8,"y":88,"d":1},{"x":3.2,"y":88,"d":1},{"x":5.6,"y":88,"d":2},{"x":10,"y":88,"d":2},{"x":18,"y":88,"d":3},{"x":32,"y":88,"d":4},{"x":56,"y":88,"d":4},{"x":100,"y":88,"d":4},{"x":178,"y":88,"d":4},{"x":316,"y":88,"d":7},{"x":562,"y":88,"d":5},{"x":1000,"y":88,"d":3},{"x":1778,"y":88,"d":1},
{"x":1.8,"y":75,"d":1},{"x":3.2,"y":75,"d":2},{"x":5.6,"y":75,"d":2},{"x":10,"y":75,"d":3},{"x":18,"y":75,"d":4},{"x":32,"y":75,"d":5},{"x":56,"y":75,"d":6},{"x":100,"y":75,"d":4},{"x":178,"y":75,"d":4},{"x":316,"y":75,"d":6},{"x":562,"y":75,"d":5},{"x":1000,"y":75,"d":3},{"x":1778,"y":75,"d":1},
{"x":1.8,"y":62,"d":1},{"x":3.2,"y":62,"d":1},{"x":5.6,"y":62,"d":2},{"x":10,"y":62,"d":3},{"x":18,"y":62,"d":4},{"x":32,"y":62,"d":6},{"x":56,"y":62,"d":6},{"x":100,"y":62,"d":4},{"x":178,"y":62,"d":4},{"x":316,"y":62,"d":5},{"x":562,"y":62,"d":5},{"x":1000,"y":62,"d":3},{"x":1778,"y":62,"d":1},
{"x":3.2,"y":50,"d":1},{"x":5.6,"y":50,"d":1},{"x":10,"y":50,"d":2},{"x":18,"y":50,"d":3},{"x":32,"y":50,"d":4},{"x":56,"y":50,"d":4},{"x":100,"y":50,"d":3},{"x":178,"y":50,"d":3},{"x":316,"y":50,"d":4},{"x":562,"y":50,"d":4},{"x":1000,"y":50,"d":2},
{"x":18,"y":38,"d":1},{"x":32,"y":38,"d":1},{"x":56,"y":38,"d":2},{"x":100,"y":38,"d":1},{"x":178,"y":38,"d":1},{"x":562,"y":38,"d":2},{"x":1000,"y":38,"d":1}],
"c3c":[{"x":410,"y":121,"d":10},{"x":400,"y":112,"d":9},{"x":430,"y":132,"d":9},{"x":380,"y":100,"d":8},{"x":450,"y":105,"d":9},{"x":400,"y":145,"d":8},{"x":350,"y":125,"d":8},{"x":500,"y":120,"d":8},{"x":360,"y":140,"d":8},{"x":470,"y":140,"d":8}],
"s5":[{"x":1778,"y":8000,"d":1},
{"x":316,"y":3162,"d":1},{"x":562,"y":3162,"d":1},{"x":1778,"y":3162,"d":1},{"x":5623,"y":3162,"d":1},{"x":10000,"y":3162,"d":1},
{"x":178,"y":1778,"d":1},{"x":316,"y":1778,"d":3},{"x":562,"y":1778,"d":4},{"x":1000,"y":1778,"d":2},{"x":1778,"y":1778,"d":2},{"x":3162,"y":1778,"d":2},
{"x":100,"y":1000,"d":1},{"x":178,"y":1000,"d":4},{"x":316,"y":1000,"d":5},{"x":562,"y":1000,"d":4},{"x":1000,"y":1000,"d":3},{"x":1778,"y":1000,"d":2},{"x":3162,"y":1000,"d":1},
{"x":100,"y":562,"d":1},{"x":178,"y":562,"d":3},{"x":316,"y":562,"d":4},{"x":562,"y":562,"d":3},{"x":1000,"y":562,"d":2},{"x":1778,"y":562,"d":1},{"x":3162,"y":562,"d":1},
{"x":56,"y":316,"d":1},{"x":100,"y":316,"d":2},{"x":178,"y":316,"d":4},{"x":316,"y":316,"d":4},{"x":562,"y":316,"d":3},{"x":1000,"y":316,"d":2},{"x":1778,"y":316,"d":2},{"x":3162,"y":316,"d":1},
{"x":32,"y":178,"d":1},{"x":56,"y":178,"d":1},{"x":100,"y":178,"d":2},{"x":178,"y":178,"d":4},{"x":316,"y":178,"d":4},{"x":562,"y":178,"d":3},{"x":1000,"y":178,"d":2},{"x":1778,"y":178,"d":2},{"x":3162,"y":178,"d":1},
{"x":56,"y":100,"d":1},{"x":100,"y":100,"d":2},{"x":178,"y":100,"d":3},{"x":316,"y":100,"d":3},{"x":562,"y":100,"d":1},{"x":1000,"y":100,"d":1},{"x":1778,"y":100,"d":1},
{"x":100,"y":56,"d":1},{"x":178,"y":56,"d":2},{"x":316,"y":56,"d":1},{"x":100,"y":32,"d":1},{"x":178,"y":32,"d":1},{"x":316,"y":32,"d":1}],
"s5c":[{"x":378,"y":1185,"d":10},{"x":316,"y":1100,"d":9},{"x":440,"y":1300,"d":9},{"x":316,"y":1300,"d":8},{"x":440,"y":1100,"d":8},{"x":270,"y":1000,"d":8},{"x":500,"y":1500,"d":8},{"x":230,"y":900,"d":7},{"x":270,"y":1200,"d":7},{"x":380,"y":1500,"d":7},{"x":540,"y":1300,"d":7},{"x":380,"y":950,"d":7},{"x":200,"y":800,"d":7},{"x":600,"y":1700,"d":7},{"x":450,"y":900,"d":7},{"x":200,"y":1100,"d":6},{"x":240,"y":1400,"d":6},{"x":330,"y":1700,"d":6},{"x":620,"y":1150,"d":6},{"x":500,"y":950,"d":6},{"x":300,"y":800,"d":6},{"x":700,"y":2000,"d":6},{"x":650,"y":1500,"d":6},{"x":170,"y":900,"d":6},{"x":180,"y":700,"d":6},{"x":240,"y":700,"d":6},{"x":400,"y":750,"d":6}],
"c5":[{"x":31623,"y":10000,"d":1},{"x":1000,"y":5623,"d":1},
{"x":316,"y":3162,"d":1},{"x":562,"y":3162,"d":2},{"x":1000,"y":3162,"d":2},
{"x":178,"y":1778,"d":1},{"x":316,"y":1778,"d":3},{"x":562,"y":1778,"d":4},{"x":1000,"y":1778,"d":4},{"x":1778,"y":1778,"d":2},{"x":3162,"y":1778,"d":2},
{"x":100,"y":1000,"d":1},{"x":178,"y":1000,"d":3},{"x":316,"y":1000,"d":5},{"x":562,"y":1000,"d":5},{"x":1000,"y":1000,"d":4},{"x":1778,"y":1000,"d":3},{"x":3162,"y":1000,"d":2},
{"x":100,"y":562,"d":1},{"x":178,"y":562,"d":3},{"x":316,"y":562,"d":4},{"x":562,"y":562,"d":4},{"x":1000,"y":562,"d":4},{"x":1778,"y":562,"d":3},{"x":3162,"y":562,"d":1},
{"x":100,"y":316,"d":2},{"x":178,"y":316,"d":4},{"x":316,"y":316,"d":4},{"x":562,"y":316,"d":5},{"x":1000,"y":316,"d":4},{"x":1778,"y":316,"d":4},{"x":3162,"y":316,"d":2},
{"x":56,"y":178,"d":1},{"x":100,"y":178,"d":3},{"x":178,"y":178,"d":4},{"x":316,"y":178,"d":5},{"x":562,"y":178,"d":4},{"x":1000,"y":178,"d":4},{"x":1778,"y":178,"d":3},{"x":3162,"y":178,"d":1},
{"x":32,"y":100,"d":1},{"x":56,"y":100,"d":2},{"x":100,"y":100,"d":3},{"x":178,"y":100,"d":4},{"x":316,"y":100,"d":4},{"x":562,"y":100,"d":3},{"x":1000,"y":100,"d":2},{"x":1778,"y":100,"d":1},{"x":3162,"y":100,"d":1},
{"x":32,"y":56,"d":1},{"x":56,"y":56,"d":1},{"x":100,"y":56,"d":2},{"x":178,"y":56,"d":3},{"x":316,"y":56,"d":3},{"x":562,"y":56,"d":2},{"x":1000,"y":56,"d":1},
{"x":56,"y":32,"d":1},{"x":100,"y":32,"d":1},{"x":178,"y":32,"d":2},{"x":316,"y":32,"d":2},{"x":562,"y":32,"d":1},
{"x":100,"y":18,"d":1},{"x":178,"y":18,"d":1},{"x":316,"y":18,"d":1},{"x":562,"y":18,"d":1},{"x":178,"y":11,"d":1},{"x":316,"y":11,"d":1}],
"c5c":[{"x":525,"y":1265,"d":10},{"x":440,"y":1150,"d":9},{"x":620,"y":1400,"d":9},{"x":380,"y":1050,"d":9},{"x":440,"y":1350,"d":8},{"x":620,"y":1180,"d":8},{"x":330,"y":1000,"d":8},{"x":720,"y":1600,"d":8},{"x":350,"y":1250,"d":7},{"x":520,"y":1000,"d":7},{"x":300,"y":900,"d":7},{"x":720,"y":1300,"d":7},{"x":800,"y":1800,"d":7},{"x":530,"y":1600,"d":7},{"x":270,"y":1100,"d":7},{"x":640,"y":1050,"d":7},{"x":260,"y":850,"d":6},{"x":300,"y":1300,"d":6},{"x":430,"y":1700,"d":6},{"x":880,"y":1500,"d":6},{"x":950,"y":2000,"d":6},{"x":430,"y":850,"d":6},{"x":780,"y":1150,"d":6},{"x":230,"y":1000,"d":6},{"x":650,"y":1900,"d":6},{"x":600,"y":850,"d":6},{"x":400,"y":320,"d":6},{"x":560,"y":300,"d":6},{"x":350,"y":200,"d":6},{"x":500,"y":230,"d":6}],
"hs":[{"x":-11.8,"y":0},{"x":-8.2,"y":4},{"x":-4.6,"y":15},{"x":-1.1,"y":59},{"x":0.7,"y":82},{"x":2.5,"y":107},{"x":4.3,"y":121},{"x":6,"y":123},{"x":8.6,"y":118},{"x":10.7,"y":116},{"x":12,"y":101},{"x":15,"y":75},{"x":18.6,"y":64},{"x":21,"y":59},{"x":24,"y":49},{"x":27.5,"y":46},{"x":31,"y":37},{"x":34.6,"y":41},{"x":38,"y":37},{"x":40.7,"y":52},{"x":43.6,"y":60},{"x":47,"y":68},{"x":49,"y":82},{"x":50.7,"y":93},{"x":53.6,"y":107},{"x":56,"y":102},{"x":59,"y":105},{"x":61.4,"y":94},{"x":64.3,"y":73},{"x":66.8,"y":57},{"x":70.4,"y":34},{"x":74,"y":22},{"x":79,"y":10},{"x":86.4,"y":1},{"x":93.6,"y":0}],
"hc":[{"x":-13.2,"y":0},{"x":-10,"y":19},{"x":-7.1,"y":75},{"x":-4.3,"y":161},{"x":-2.1,"y":209},{"x":-0.7,"y":246},{"x":1.1,"y":222},{"x":2.9,"y":184},{"x":5.4,"y":128},{"x":7.9,"y":106},{"x":10.7,"y":80},{"x":14.3,"y":71},{"x":17.9,"y":52},{"x":21.4,"y":39},{"x":25.7,"y":30},{"x":29.3,"y":17},{"x":33.9,"y":24},{"x":37.5,"y":24},{"x":41,"y":41},{"x":44.6,"y":71},{"x":48.2,"y":101},{"x":51.8,"y":127},{"x":54.6,"y":138},{"x":58.9,"y":125},{"x":63.6,"y":114},{"x":67.9,"y":88},{"x":73.2,"y":67},{"x":78.6,"y":45},{"x":83.9,"y":32},{"x":89.3,"y":22},{"x":94.6,"y":11},{"x":100,"y":2},{"x":110.7,"y":0}],
"tb":[{"x":0,"x2":100,"y":0,"y2":12.5,"b":"h","t":"","cx":50,"cy":6},
{"x":0,"x2":31.6,"y":12.5,"y2":24.9,"b":"a","t":"Fluorochrome","cx":15.8,"cy":19.2},{"x":31.6,"x2":58.3,"y":12.5,"y2":24.9,"b":"a","t":"Antibody","cx":45,"cy":19.2},{"x":58.3,"x2":78.5,"y":12.5,"y2":24.9,"b":"a","t":"Clone","cx":68.4,"cy":19.2},{"x":78.5,"x2":100,"y":12.5,"y2":24.9,"b":"a","t":"Vendor","cx":89.2,"cy":19.2},
{"x":0,"x2":31.6,"y":24.9,"y2":37.4,"b":"b","t":"APC-Cy7","cx":15.8,"cy":31.6},{"x":31.6,"x2":58.3,"y":24.9,"y2":37.4,"b":"b","t":"CD45","cx":45,"cy":31.6},{"x":58.3,"x2":78.5,"y":24.9,"y2":37.4,"b":"b","t":"OX-1","cx":68.4,"cy":31.6},{"x":78.5,"x2":100,"y":24.9,"y2":37.4,"b":"b","t":"BD","cx":89.2,"cy":31.6},
{"x":0,"x2":31.6,"y":37.4,"y2":49.9,"b":"a","t":"PE-Cy7","cx":15.8,"cy":44.1},{"x":31.6,"x2":58.3,"y":37.4,"y2":49.9,"b":"a","t":"CD11b/c","cx":45,"cy":44.1},{"x":58.3,"x2":78.5,"y":37.4,"y2":49.9,"b":"a","t":"OX-42","cx":68.4,"cy":44.1},{"x":78.5,"x2":100,"y":37.4,"y2":49.9,"b":"a","t":"BD","cx":89.2,"cy":44.1},
{"x":0,"x2":31.6,"y":49.9,"y2":62.6,"b":"b","t":"FITC","cx":15.8,"cy":56.6},{"x":31.6,"x2":58.3,"y":49.9,"y2":62.6,"b":"b","t":"P2Y12","cx":45,"cy":56.6},{"x":58.3,"x2":78.5,"y":49.9,"y2":62.6,"b":"b","t":"n/a","cx":68.4,"cy":56.6},{"x":78.5,"x2":100,"y":49.9,"y2":62.6,"b":"b","t":"Alomone","cx":89.2,"cy":53.8},{"x":78.5,"x2":100,"y":49.9,"y2":62.6,"b":"b","t":"Labs","cx":89.2,"cy":59.6},
{"x":0,"x2":31.6,"y":62.6,"y2":74.9,"b":"a","t":"PE","cx":15.8,"cy":69.2},{"x":31.6,"x2":58.3,"y":62.6,"y2":74.9,"b":"a","t":"CD32","cx":45,"cy":69.2},{"x":58.3,"x2":78.5,"y":62.6,"y2":74.9,"b":"a","t":"D34-485","cx":68.4,"cy":69.2},{"x":78.5,"x2":100,"y":62.6,"y2":74.9,"b":"a","t":"BD","cx":89.2,"cy":69.2},
{"x":0,"x2":31.6,"y":74.9,"y2":87.4,"b":"b","t":"Alexa Fluor 647","cx":15.8,"cy":81.6},{"x":31.6,"x2":58.3,"y":74.9,"y2":87.4,"b":"b","t":"RT1B","cx":45,"cy":81.6},{"x":58.3,"x2":78.5,"y":74.9,"y2":87.4,"b":"b","t":"OX-6","cx":68.4,"cy":81.6},{"x":78.5,"x2":100,"y":74.9,"y2":87.4,"b":"b","t":"BD","cx":89.2,"cy":81.6},
{"x":0,"x2":31.6,"y":87.4,"y2":100,"b":"a","t":"PerCP Cy5.5","cx":15.8,"cy":94.1},{"x":31.6,"x2":58.3,"y":87.4,"y2":100,"b":"a","t":"7-AAD","cx":45,"cy":94.1},{"x":58.3,"x2":78.5,"y":87.4,"y2":100,"b":"a","t":"n/a","cx":68.4,"cy":94.1},{"x":78.5,"x2":100,"y":87.4,"y2":100,"b":"a","t":"BD","cx":89.2,"cy":94.1}]
},
"data":{"values":[{"a":1}]},
"vconcat":[
{"bounds":"flush","spacing":0,"hconcat":[
{"width":55,"height":79,"view":{"stroke":"#999","strokeWidth":1.5},"data":{"values":[{"t":"A"}]},"mark":{"type":"text","fontSize":60,"fontWeight":"bold","color":"#000"},"encoding":{"text":{"field":"t"}}},
{"width":903,"height":1,"mark":{"type":"rect","opacity":0},"encoding":{}},
{"width":50,"height":79,"view":{"stroke":"#999","strokeWidth":1.5},"data":{"values":[{"t":"B"}]},"mark":{"type":"text","fontSize":60,"fontWeight":"bold","color":"#000"},"encoding":{"text":{"field":"t"}}}]},
{"width":1,"height":38,"mark":{"type":"rect","opacity":0},"encoding":{}},
{"bounds":"flush","spacing":0,"hconcat":[
{"width":446,"height":1,"mark":{"type":"rect","opacity":0},"encoding":{}},
{"width":200,"height":202,"view":{"stroke":"#777","strokeWidth":1.5},"encoding":{"x":{"field":"x","type":"quantitative","scale":{"domain":[-1,263]},"axis":{"title":"FSC-A","titlePadding":18,"values":[0,10,20,30,40,50,60,70,80,90,100,110,120,130,140,150,160,170,180,190,200,210,220,230,240,250,260],"labelExpr":"datum.value%50==0?(datum.value==0?'0':datum.value+'K'):''","tickSize":{"condition":{"test":"datum.value%50==0","value":5},"value":2}}},"y":{"field":"y","type":"quantitative","scale":{"domain":[-1,263]},"axis":{"title":"FSC-H","titlePadding":4,"values":[0,10,20,30,40,50,60,70,80,90,100,110,120,130,140,150,160,170,180,190,200,210,220,230,240,250,260],"labelExpr":"datum.value%50==0?(datum.value==0?'0':datum.value+'K'):''","tickSize":{"condition":{"test":"datum.value%50==0","value":5},"value":2}}}},
"layer":[{"data":{"name":"s2"},"mark":{"type":"point","filled":true,"size":85,"clip":true,"strokeWidth":0,"opacity":1},"encoding":{"color":{"field":"d","type":"ordinal","legend":null},"shape":{"field":"d","type":"ordinal","legend":null}}},
{"data":{"values":[{"x":36,"y":54.6,"o":1},{"x":263,"y":232,"o":2},{"x":263,"y":178,"o":3},{"x":59,"y":26.6,"o":4},{"x":36,"y":54.6,"o":5}]},"mark":{"type":"line","color":"#111","strokeWidth":1.5,"clip":true},"encoding":{"order":{"field":"o"}}},
{"data":{"values":[{"x":152,"y":143,"t":"Single Cells"},{"x":152,"y":118,"t":"93.3"}]},"mark":{"type":"text","fontSize":14,"color":"#111"},"encoding":{"text":{"field":"t"}}}]},
{"width":432,"height":1,"mark":{"type":"rect","opacity":0},"encoding":{}},
{"width":722,"height":623,"data":{"name":"tb"},"layer":[
{"mark":{"type":"rect","stroke":"#808694","strokeWidth":1.2},"encoding":{"x":{"field":"x","type":"quantitative","scale":{"domain":[0,100]},"axis":null},"x2":{"field":"x2"},"y":{"field":"y","type":"quantitative","scale":{"domain":[100,0]},"axis":null},"y2":{"field":"y2"},"fill":{"field":"b","type":"nominal","scale":{"domain":["h","a","b"],"range":["#4472c4","#cfd5ea","#e9ebf5"]},"legend":null}}},
{"mark":{"type":"text","fontSize":20.3,"color":"#1a1a1a"},"encoding":{"x":{"field":"cx","type":"quantitative","axis":null},"y":{"field":"cy","type":"quantitative","axis":null},"text":{"field":"t"}}},
{"data":{"values":[{"x":1.7,"y":5.4,"t":"Table 1. Multicolor Flow Cytometry Microglia/Myeloid  Cell Panel"}]},"mark":{"type":"text","align":"left","fontSize":22.5,"color":"#fff"},"encoding":{"x":{"field":"x","type":"quantitative","axis":null},"y":{"field":"y","type":"quantitative","axis":null},"text":{"field":"t"}}}]}]},
{"width":1,"height":3,"mark":{"type":"rect","opacity":0},"encoding":{}},
{"bounds":"flush","spacing":0,"hconcat":[
{"width":148,"height":1,"mark":{"type":"rect","opacity":0},"encoding":{}},
{"width":201,"height":201,"view":{"stroke":"#777","strokeWidth":1.5},"encoding":{"x":{"field":"x","type":"quantitative","scale":{"domain":[-1,264]},"axis":{"title":"FSC-A","titlePadding":17,"values":[0,10,20,30,40,50,60,70,80,90,100,110,120,130,140,150,160,170,180,190,200,210,220,230,240,250,260],"labelExpr":"datum.value%50==0?(datum.value==0?'0':datum.value+'K'):''","tickSize":{"condition":{"test":"datum.value%50==0","value":5},"value":2}}},"y":{"field":"y","type":"quantitative","scale":{"domain":[-2,261]},"axis":{"title":"SSC-A","titlePadding":6,"values":[0,10,20,30,40,50,60,70,80,90,100,110,120,130,140,150,160,170,180,190,200,210,220,230,240,250,260],"labelExpr":"datum.value%50==0?(datum.value==0?'0':datum.value+'K'):''","tickSize":{"condition":{"test":"datum.value%50==0","value":5},"value":2}}}},
"layer":[{"data":{"name":"s1"},"mark":{"type":"point","filled":true,"size":235,"clip":true,"strokeWidth":0,"opacity":1},"encoding":{"color":{"field":"d","type":"ordinal","legend":null},"shape":{"field":"d","type":"ordinal","legend":null}}},
{"data":{"name":"s1c"},"mark":{"type":"point","filled":true,"size":30,"clip":true,"strokeWidth":0,"opacity":1},"encoding":{"color":{"field":"d","type":"ordinal","legend":null},"shape":{"field":"d","type":"ordinal","legend":null}}},
{"data":{"values":[{"x":85,"y":261,"o":1},{"x":250,"y":261,"o":2},{"x":263,"y":249,"o":3},{"x":263,"y":42,"o":4},{"x":246,"y":19,"o":5},{"x":92,"y":7.4,"o":6},{"x":62,"y":18,"o":7},{"x":60,"y":44,"o":8},{"x":57,"y":122,"o":9},{"x":64,"y":153,"o":10},{"x":85,"y":261,"o":11}]},"mark":{"type":"line","color":"#111","strokeWidth":1.5,"clip":true},"encoding":{"order":{"field":"o"}}},
{"data":{"values":[{"x":162,"y":213,"t":"Cells"},{"x":162,"y":188,"t":"17.0"}]},"mark":{"type":"text","fontSize":14,"color":"#111"},"encoding":{"text":{"field":"t"}}}]},
{"width":97,"height":201,"data":{"values":[{"x":0.103,"x2":0.36,"y":0.547,"y2":0.547,"hx":0.36,"hy":0.547,"a":90}]},"layer":[{"mark":{"type":"rule","strokeWidth":3.5,"color":"#000"},"encoding":{"x":{"field":"x","type":"quantitative","scale":{"domain":[0,1]},"axis":null},"x2":{"field":"x2"},"y":{"field":"y","type":"quantitative","scale":{"domain":[1,0]},"axis":null},"y2":{"field":"y2"}}},{"mark":{"type":"point","shape":"triangle-up","filled":true,"size":130,"color":"#000","opacity":1},"encoding":{"x":{"field":"hx","type":"quantitative","axis":null},"y":{"field":"hy","type":"quantitative","axis":null},"angle":{"field":"a","type":"quantitative","scale":null}}}]},
{"width":200,"height":1,"mark":{"type":"rect","opacity":0},"encoding":{}},
{"width":93,"height":201,"data":{"values":[{"x":0.075,"x2":0.356,"y":0.547,"y2":0.547,"hx":0.356,"hy":0.547,"a":90}]},"layer":[{"mark":{"type":"rule","strokeWidth":3.5,"color":"#000"},"encoding":{"x":{"field":"x","type":"quantitative","scale":{"domain":[0,1]},"axis":null},"x2":{"field":"x2"},"y":{"field":"y","type":"quantitative","scale":{"domain":[1,0]},"axis":null},"y2":{"field":"y2"}}},{"mark":{"type":"point","shape":"triangle-up","filled":true,"size":130,"color":"#000","opacity":1},"encoding":{"x":{"field":"hx","type":"quantitative","axis":null},"y":{"field":"hy","type":"quantitative","axis":null},"angle":{"field":"a","type":"quantitative","scale":null}}}]},
{"width":201,"height":201,"view":{"stroke":"#777","strokeWidth":1.5},"encoding":{"x":{"field":"x","type":"quantitative","scale":{"type":"log","domain":[1,270000]},"axis":{"title":"7-AAD","titlePadding":17,"values":[1,2,3,4,5,6,7,8,9,10,20,30,40,50,60,70,80,90,100,200,300,400,500,600,700,800,900,1000,2000,3000,4000,5000,6000,7000,8000,9000,10000,20000,30000,40000,50000,60000,70000,80000,90000,100000,200000],"labelExpr":"['10⁰','10¹','10²','10³','10⁴','10⁵'][indexof([1,10,100,1000,10000,100000],datum.value)]||''","tickSize":{"condition":{"test":"indexof([1,10,100,1000,10000,100000],datum.value)>=0","value":5},"value":2}}},"y":{"field":"y","type":"quantitative","scale":{"domain":[-2.6,262]},"axis":{"title":"FSC-H","titlePadding":3,"values":[0,10,20,30,40,50,60,70,80,90,100,110,120,130,140,150,160,170,180,190,200,210,220,230,240,250,260],"labelExpr":"datum.value%50==0?(datum.value==0?'0':datum.value+'K'):''","tickSize":{"condition":{"test":"datum.value%50==0","value":5},"value":2}}}},
"layer":[{"data":{"name":"s3"},"mark":{"type":"point","filled":true,"size":90,"clip":true,"strokeWidth":0,"opacity":1},"encoding":{"color":{"field":"d","type":"ordinal","legend":null},"shape":{"field":"d","type":"ordinal","legend":null}}},
{"data":{"name":"s3c"},"mark":{"type":"point","filled":true,"size":30,"clip":true,"strokeWidth":0,"opacity":1},"encoding":{"color":{"field":"d","type":"ordinal","legend":null},"shape":{"field":"d","type":"ordinal","legend":null}}},
{"data":{"values":[{"x":1,"y":241,"o":1},{"x":708,"y":241,"o":2},{"x":708,"y":-2.6,"o":3}]},"mark":{"type":"line","color":"#111","strokeWidth":1.5,"clip":true},"encoding":{"order":{"field":"o"}}},
{"data":{"values":[{"x":18,"y":133,"t":"Live Cells"},{"x":18,"y":108,"t":"96.3"}]},"mark":{"type":"text","fontSize":14,"color":"#111"},"encoding":{"text":{"field":"t"}}}]}]},
{"width":1,"height":160,"mark":{"type":"rect","opacity":0},"encoding":{}},
{"bounds":"flush","spacing":0,"hconcat":[
{"width":55,"height":1,"mark":{"type":"rect","opacity":0},"encoding":{}},
{"width":34,"height":88,"data":{"values":[{"t":"Sham"}]},"mark":{"type":"text","fontSize":34,"angle":270,"color":"#111"},"encoding":{"text":{"field":"t"}}}]},
{"width":1,"height":138,"mark":{"type":"rect","opacity":0},"encoding":{}},
{"bounds":"flush","spacing":0,"hconcat":[
{"width":280,"height":1,"mark":{"type":"rect","opacity":0},"encoding":{}},
{"width":202,"height":202,"view":{"stroke":"#777","strokeWidth":1.5},"encoding":{"x":{"field":"x","type":"quantitative","scale":{"domain":[-45,157]},"axis":{"title":"CD11bc","titlePadding":17,"values":[-40,-30,-20,-11,0,12,25,36,44,50,55,59,63,78,87,93,98,102,106,110,113,128,137,143,148,152],"labelExpr":"datum.value==0?'0':datum.value==63?'10³':datum.value==113?'10⁴':''","tickSize":{"condition":{"test":"datum.value==0||datum.value==63||datum.value==113","value":5},"value":2}}},"y":{"field":"y","type":"quantitative","scale":{"domain":[-1.6,138]},"axis":{"title":null,"values":[0,6,12,18,24,30,36,42,48,54,60,66,72,78,84,90,96,102,108,114,120,126,132],"labelExpr":"datum.value%30==0?datum.value:''","tickSize":{"condition":{"test":"datum.value%30==0","value":5},"value":2}}}},
"layer":[{"data":{"name":"hs"},"mark":{"type":"area","color":"#9a9a9a","opacity":1},"encoding":{}},
{"data":{"name":"hs"},"mark":{"type":"line","color":"#111","strokeWidth":1.8},"encoding":{}},
{"data":{"values":[{"x":29.6,"x2":155,"y":75,"y2":75},{"x":29.6,"x2":29.6,"y":72.5,"y2":77.5},{"x":155,"x2":155,"y":72.5,"y2":77.5}]},"mark":{"type":"rule","color":"#b5282a","strokeWidth":1.8},"encoding":{"x2":{"field":"x2"},"y2":{"field":"y2"}}},
{"data":{"values":[{"x":99,"y":101.6,"t":"CD11bc+"},{"x":99,"y":88,"t":"53.8"}]},"mark":{"type":"text","fontSize":14,"color":"#111"},"encoding":{"text":{"field":"t"}}}]},
{"width":95,"height":202,"data":{"values":[{"x":0.095,"x2":0.37,"y":0.545,"y2":0.545,"hx":0.37,"hy":0.545,"a":90},{"x":2.884,"x2":0.163,"y":-0.574,"y2":0.013,"hx":0.163,"hy":0.013,"a":245}]},"layer":[{"mark":{"type":"rule","strokeWidth":3.5,"color":"#000"},"encoding":{"x":{"field":"x","type":"quantitative","scale":{"domain":[0,1]},"axis":null},"x2":{"field":"x2"},"y":{"field":"y","type":"quantitative","scale":{"domain":[1,0]},"axis":null},"y2":{"field":"y2"}}},{"mark":{"type":"point","shape":"triangle-up","filled":true,"size":130,"color":"#000","opacity":1},"encoding":{"x":{"field":"hx","type":"quantitative","axis":null},"y":{"field":"hy","type":"quantitative","axis":null},"angle":{"field":"a","type":"quantitative","scale":null}}}]},
{"width":201,"height":202,"view":{"stroke":"#777","strokeWidth":1.5},"encoding":{"x":{"field":"x","type":"quantitative","scale":{"type":"log","domain":[2.93,88000]},"axis":{"title":"CD45","titlePadding":19,"values":[3,4,5,6,7,8,9,10,20,30,40,50,60,70,80,90,100,200,300,400,500,600,700,800,900,1000,2000,3000,4000,5000,6000,7000,8000,9000,10000,20000,30000,40000,50000,60000,70000,80000],"labelExpr":"['10¹','10²','10³','10⁴'][indexof([10,100,1000,10000],datum.value)]||''","tickSize":{"condition":{"test":"indexof([10,100,1000,10000],datum.value)>=0","value":5},"value":2}}},"y":{"field":"y","type":"quantitative","scale":{"type":"log","domain":[9.5,260000]},"axis":{"title":"P2Y12","titlePadding":5,"values":[10,20,30,40,50,60,70,80,90,100,200,300,400,500,600,700,800,900,1000,2000,3000,4000,5000,6000,7000,8000,9000,10000,20000,30000,40000,50000,60000,70000,80000,90000,100000,200000],"labelExpr":"['10¹','10²','10³','10⁴','10⁵'][indexof([10,100,1000,10000,100000],datum.value)]||''","tickSize":{"condition":{"test":"indexof([10,100,1000,10000,100000],datum.value)>=0","value":5},"value":2}}}},
"layer":[{"data":{"name":"s5"},"mark":{"type":"point","filled":true,"size":128,"clip":true,"strokeWidth":0,"opacity":1},"encoding":{"color":{"field":"d","type":"ordinal","legend":null},"shape":{"field":"d","type":"ordinal","legend":null}}},
{"data":{"name":"s5c"},"mark":{"type":"point","filled":true,"size":28,"clip":true,"strokeWidth":0,"opacity":1},"encoding":{"color":{"field":"d","type":"ordinal","legend":null},"shape":{"field":"d","type":"ordinal","legend":null}}},
{"data":{"values":[{"x":129,"x2":129,"y":9.5,"y2":260000},{"x":2.93,"x2":88000,"y":407,"y2":407}]},"mark":{"type":"rule","color":"#b5282a","strokeWidth":1.8},"encoding":{"x2":{"field":"x2"},"y2":{"field":"y2"}}},
{"data":{"values":[{"x":3.65,"y":110000,"t":"Q1"},{"x":3.65,"y":41500,"t":"0.27"},{"x":3.65,"y":63,"t":"Q4"},{"x":3.65,"y":24,"t":"0.63"}]},"mark":{"type":"text","align":"left","fontSize":14,"color":"#111"},"encoding":{"text":{"field":"t"}}},
{"data":{"values":[{"x":16300,"y":110000,"t":"Microglia"},{"x":16300,"y":41500,"t":"84.5"},{"x":17600,"y":63,"t":"PM cells"},{"x":17600,"y":24,"t":"14.5"}]},"mark":{"type":"text","align":"right","fontSize":14,"color":"#111"},"encoding":{"text":{"field":"t"}}}]}]},
{"width":1,"height":390,"mark":{"type":"rect","opacity":0},"encoding":{}},
{"bounds":"flush","spacing":0,"hconcat":[
{"width":448,"height":1,"mark":{"type":"rect","opacity":0},"encoding":{}},
{"width":201,"height":200,"view":{"stroke":"#777","strokeWidth":1.5},"encoding":{"x":{"field":"x","type":"quantitative","scale":{"domain":[0,265.5]},"axis":{"title":"FSC-A","titlePadding":19,"values":[0,10,20,30,40,50,60,70,80,90,100,110,120,130,140,150,160,170,180,190,200,210,220,230,240,250,260],"labelExpr":"datum.value%50==0?(datum.value==0?'0':datum.value+'K'):''","tickSize":{"condition":{"test":"datum.value%50==0","value":5},"value":2}}},"y":{"field":"y","type":"quantitative","scale":{"domain":[-1.3,261]},"axis":{"title":"FSC-H","titlePadding":10,"values":[0,10,20,30,40,50,60,70,80,90,100,110,120,130,140,150,160,170,180,190,200,210,220,230,240,250,260],"labelExpr":"datum.value%50==0?(datum.value==0?'0':datum.value+'K'):''","tickSize":{"condition":{"test":"datum.value%50==0","value":5},"value":2}}}},
"layer":[{"data":{"name":"c2"},"mark":{"type":"point","filled":true,"size":85,"clip":true,"strokeWidth":0,"opacity":1},"encoding":{"color":{"field":"d","type":"ordinal","legend":null},"shape":{"field":"d","type":"ordinal","legend":null}}},
{"data":{"values":[{"x":37.6,"y":53,"o":1},{"x":265,"y":230,"o":2},{"x":265,"y":177,"o":3},{"x":61.5,"y":25,"o":4},{"x":37.6,"y":53,"o":5}]},"mark":{"type":"line","color":"#111","strokeWidth":1.5,"clip":true},"encoding":{"order":{"field":"o"}}},
{"data":{"values":[{"x":154,"y":141,"t":"Single Cells"},{"x":154,"y":116,"t":"92.3"}]},"mark":{"type":"text","fontSize":14,"color":"#111"},"encoding":{"text":{"field":"t"}}}]}]},
{"width":1,"height":1,"mark":{"type":"rect","opacity":0},"encoding":{}},
{"bounds":"flush","spacing":0,"hconcat":[
{"width":149,"height":1,"mark":{"type":"rect","opacity":0},"encoding":{}},
{"width":201,"height":201,"view":{"stroke":"#777","strokeWidth":1.5},"encoding":{"x":{"field":"x","type":"quantitative","scale":{"domain":[-0.7,264.5]},"axis":{"title":"FSC-A","titlePadding":19,"values":[0,10,20,30,40,50,60,70,80,90,100,110,120,130,140,150,160,170,180,190,200,210,220,230,240,250,260],"labelExpr":"datum.value%50==0?(datum.value==0?'0':datum.value+'K'):''","tickSize":{"condition":{"test":"datum.value%50==0","value":5},"value":2}}},"y":{"field":"y","type":"quantitative","scale":{"domain":[-1,262]},"axis":{"title":"SSC-A","titlePadding":10,"values":[0,10,20,30,40,50,60,70,80,90,100,110,120,130,140,150,160,170,180,190,200,210,220,230,240,250,260],"labelExpr":"datum.value%50==0?(datum.value==0?'0':datum.value+'K'):''","tickSize":{"condition":{"test":"datum.value%50==0","value":5},"value":2}}}},
"layer":[{"data":{"name":"c1"},"mark":{"type":"point","filled":true,"size":235,"clip":true,"strokeWidth":0,"opacity":1},"encoding":{"color":{"field":"d","type":"ordinal","legend":null},"shape":{"field":"d","type":"ordinal","legend":null}}},
{"data":{"name":"c1c"},"mark":{"type":"point","filled":true,"size":30,"clip":true,"strokeWidth":0,"opacity":1},"encoding":{"color":{"field":"d","type":"ordinal","legend":null},"shape":{"field":"d","type":"ordinal","legend":null}}},
{"data":{"values":[{"x":83.5,"y":261,"o":1},{"x":250,"y":261,"o":2},{"x":262,"y":249,"o":3},{"x":262,"y":41.5,"o":4},{"x":246,"y":19.6,"o":5},{"x":89,"y":8.3,"o":6},{"x":60.5,"y":18.3,"o":7},{"x":59,"y":61,"o":8},{"x":56,"y":120,"o":9},{"x":64,"y":170,"o":10},{"x":83.5,"y":261,"o":11}]},"mark":{"type":"line","color":"#111","strokeWidth":1.5,"clip":true},"encoding":{"order":{"field":"o"}}},
{"data":{"values":[{"x":160,"y":219,"t":"Cells"},{"x":160,"y":194,"t":"25.6"}]},"mark":{"type":"text","fontSize":14,"color":"#111"},"encoding":{"text":{"field":"t"}}}]},
{"width":98,"height":201,"data":{"values":[{"x":0.09,"x2":0.357,"y":0.557,"y2":0.557,"hx":0.357,"hy":0.557,"a":90}]},"layer":[{"mark":{"type":"rule","strokeWidth":3.5,"color":"#000"},"encoding":{"x":{"field":"x","type":"quantitative","scale":{"domain":[0,1]},"axis":null},"x2":{"field":"x2"},"y":{"field":"y","type":"quantitative","scale":{"domain":[1,0]},"axis":null},"y2":{"field":"y2"}}},{"mark":{"type":"point","shape":"triangle-up","filled":true,"size":130,"color":"#000","opacity":1},"encoding":{"x":{"field":"hx","type":"quantitative","axis":null},"y":{"field":"hy","type":"quantitative","axis":null},"angle":{"field":"a","type":"quantitative","scale":null}}}]}]},
{"width":1,"height":1,"mark":{"type":"rect","opacity":0},"encoding":{}},
{"bounds":"flush","spacing":0,"hconcat":[
{"width":649,"height":1,"mark":{"type":"rect","opacity":0},"encoding":{}},
{"width":87,"height":200,"data":{"values":[{"x":0.046,"x2":0.345,"y":0.555,"y2":0.555,"hx":0.345,"hy":0.555,"a":90}]},"layer":[{"mark":{"type":"rule","strokeWidth":3.5,"color":"#000"},"encoding":{"x":{"field":"x","type":"quantitative","scale":{"domain":[0,1]},"axis":null},"x2":{"field":"x2"},"y":{"field":"y","type":"quantitative","scale":{"domain":[1,0]},"axis":null},"y2":{"field":"y2"}}},{"mark":{"type":"point","shape":"triangle-up","filled":true,"size":130,"color":"#000","opacity":1},"encoding":{"x":{"field":"hx","type":"quantitative","axis":null},"y":{"field":"hy","type":"quantitative","axis":null},"angle":{"field":"a","type":"quantitative","scale":null}}}]},
{"width":202,"height":200,"view":{"stroke":"#777","strokeWidth":1.5},"encoding":{"x":{"field":"x","type":"quantitative","scale":{"type":"log","domain":[1,288000]},"axis":{"title":"7-AAD","titlePadding":19,"values":[1,2,3,4,5,6,7,8,9,10,20,30,40,50,60,70,80,90,100,200,300,400,500,600,700,800,900,1000,2000,3000,4000,5000,6000,7000,8000,9000,10000,20000,30000,40000,50000,60000,70000,80000,90000,100000,200000],"labelExpr":"['10⁰','10¹','10²','10³','10⁴','10⁵'][indexof([1,10,100,1000,10000,100000],datum.value)]||''","tickSize":{"condition":{"test":"indexof([1,10,100,1000,10000,100000],datum.value)>=0","value":5},"value":2}}},"y":{"field":"y","type":"quantitative","scale":{"domain":[-0.4,262]},"axis":{"title":"FSC-H","titlePadding":2,"values":[0,10,20,30,40,50,60,70,80,90,100,110,120,130,140,150,160,170,180,190,200,210,220,230,240,250,260],"labelExpr":"datum.value%50==0?(datum.value==0?'0':datum.value+'K'):''","tickSize":{"condition":{"test":"datum.value%50==0","value":5},"value":2}}}},
"layer":[{"data":{"name":"c3"},"mark":{"type":"point","filled":true,"size":90,"clip":true,"strokeWidth":0,"opacity":1},"encoding":{"color":{"field":"d","type":"ordinal","legend":null},"shape":{"field":"d","type":"ordinal","legend":null}}},
{"data":{"name":"c3c"},"mark":{"type":"point","filled":true,"size":30,"clip":true,"strokeWidth":0,"opacity":1},"encoding":{"color":{"field":"d","type":"ordinal","legend":null},"shape":{"field":"d","type":"ordinal","legend":null}}},
{"data":{"values":[{"x":1,"y":242,"o":1},{"x":745,"y":242,"o":2},{"x":745,"y":-0.4,"o":3}]},"mark":{"type":"line","color":"#111","strokeWidth":1.5,"clip":true},"encoding":{"order":{"field":"o"}}},
{"data":{"values":[{"x":19,"y":134,"t":"Live Cells"},{"x":19,"y":110,"t":"95.7"}]},"mark":{"type":"text","fontSize":14,"color":"#111"},"encoding":{"text":{"field":"t"}}}]}]},
{"width":1,"height":227,"mark":{"type":"rect","opacity":0},"encoding":{}},
{"bounds":"flush","spacing":0,"hconcat":[
{"width":56,"height":1,"mark":{"type":"rect","opacity":0},"encoding":{}},
{"width":34,"height":61,"data":{"values":[{"t":"CCI"}]},"mark":{"type":"text","fontSize":35,"angle":270,"color":"#111"},"encoding":{"text":{"field":"t"}}}]},
{"width":1,"height":76,"mark":{"type":"rect","opacity":0},"encoding":{}},
{"bounds":"flush","spacing":0,"hconcat":[
{"width":278,"height":1,"mark":{"type":"rect","opacity":0},"encoding":{}},
{"width":202,"height":201,"view":{"stroke":"#777","strokeWidth":1.5},"encoding":{"x":{"field":"x","type":"quantitative","scale":{"domain":[-48,154]},"axis":{"title":"CD11bc","titlePadding":19,"values":[-40,-30,-20,-11,0,12,25,36,44,50,55,59,62,77,86,92,97,101,104,108,111,126,135,141,146,150],"labelExpr":"datum.value==0?'0':datum.value==62?'10³':datum.value==111?'10⁴':''","tickSize":{"condition":{"test":"datum.value==0||datum.value==62||datum.value==111","value":5},"value":2}}},"y":{"field":"y","type":"quantitative","scale":{"domain":[-4.3,255.6]},"axis":{"title":null,"values":[0,10,20,30,40,50,60,70,80,90,100,110,120,130,140,150,160,170,180,190,200,210,220,230,240,250],"labelExpr":"datum.value%50==0?datum.value:''","tickSize":{"condition":{"test":"datum.value%50==0","value":5},"value":2}}}},
"layer":[{"data":{"name":"hc"},"mark":{"type":"area","color":"#9a9a9a","opacity":1},"encoding":{}},
{"data":{"name":"hc"},"mark":{"type":"line","color":"#111","strokeWidth":1.8},"encoding":{}},
{"data":{"values":[{"x":26.4,"x2":151.8,"y":138,"y2":138},{"x":26.4,"x2":26.4,"y":133,"y2":143},{"x":151.8,"x2":151.8,"y":133,"y2":143}]},"mark":{"type":"rule","color":"#b5282a","strokeWidth":1.8},"encoding":{"x2":{"field":"x2"},"y2":{"field":"y2"}}},
{"data":{"values":[{"x":88.6,"y":188,"t":"CD11bc+"},{"x":88.6,"y":164,"t":"54.6"}]},"mark":{"type":"text","fontSize":14,"color":"#111"},"encoding":{"text":{"field":"t"}}}]},
{"width":100,"height":201,"data":{"values":[{"x":0.11,"x2":0.37,"y":0.522,"y2":0.522,"hx":0.37,"hy":0.522,"a":90},{"x":2.76,"x2":0.175,"y":-0.602,"y2":-0.012,"hx":0.175,"hy":-0.012,"a":245}]},"layer":[{"mark":{"type":"rule","strokeWidth":3.5,"color":"#000"},"encoding":{"x":{"field":"x","type":"quantitative","scale":{"domain":[0,1]},"axis":null},"x2":{"field":"x2"},"y":{"field":"y","type":"quantitative","scale":{"domain":[1,0]},"axis":null},"y2":{"field":"y2"}}},{"mark":{"type":"point","shape":"triangle-up","filled":true,"size":130,"color":"#000","opacity":1},"encoding":{"x":{"field":"hx","type":"quantitative","axis":null},"y":{"field":"hy","type":"quantitative","axis":null},"angle":{"field":"a","type":"quantitative","scale":null}}}]},
{"width":202,"height":201,"view":{"stroke":"#777","strokeWidth":1.5},"encoding":{"x":{"field":"x","type":"quantitative","scale":{"type":"log","domain":[2.86,94600]},"axis":{"title":"CD45","titlePadding":19,"values":[3,4,5,6,7,8,9,10,20,30,40,50,60,70,80,90,100,200,300,400,500,600,700,800,900,1000,2000,3000,4000,5000,6000,7000,8000,9000,10000,20000,30000,40000,50000,60000,70000,80000,90000],"labelExpr":"['10¹','10²','10³','10⁴'][indexof([10,100,1000,10000],datum.value)]||''","tickSize":{"condition":{"test":"indexof([10,100,1000,10000],datum.value)>=0","value":5},"value":2}}},"y":{"field":"y","type":"quantitative","scale":{"type":"log","domain":[10,250000]},"axis":{"title":"P2Y12","titlePadding":4,"values":[10,20,30,40,50,60,70,80,90,100,200,300,400,500,600,700,800,900,1000,2000,3000,4000,5000,6000,7000,8000,9000,10000,20000,30000,40000,50000,60000,70000,80000,90000,100000,200000],"labelExpr":"['10¹','10²','10³','10⁴','10⁵'][indexof([10,100,1000,10000,100000],datum.value)]||''","tickSize":{"condition":{"test":"indexof([10,100,1000,10000,100000],datum.value)>=0","value":5},"value":2}}}},
"layer":[{"data":{"name":"c5"},"mark":{"type":"point","filled":true,"size":128,"clip":true,"strokeWidth":0,"opacity":1},"encoding":{"color":{"field":"d","type":"ordinal","legend":null},"shape":{"field":"d","type":"ordinal","legend":null}}},
{"data":{"name":"c5c"},"mark":{"type":"point","filled":true,"size":28,"clip":true,"strokeWidth":0,"opacity":1},"encoding":{"color":{"field":"d","type":"ordinal","legend":null},"shape":{"field":"d","type":"ordinal","legend":null}}},
{"data":{"values":[{"x":132,"x2":132,"y":10,"y2":250000},{"x":2.86,"x2":94600,"y":432,"y2":432}]},"mark":{"type":"rule","color":"#b5282a","strokeWidth":1.8},"encoding":{"x2":{"field":"x2"},"y2":{"field":"y2"}}},
{"data":{"values":[{"x":3.44,"y":105000,"t":"Q1"},{"x":3.44,"y":41000,"t":"0.045"},{"x":3.44,"y":65,"t":"Q4"},{"x":3.44,"y":25,"t":"1.41"}]},"mark":{"type":"text","align":"left","fontSize":14,"color":"#111"},"encoding":{"text":{"field":"t"}}},
{"data":{"values":[{"x":17000,"y":105000,"t":"Microglia"},{"x":17000,"y":41000,"t":"72.5"},{"x":18400,"y":65,"t":"PM cells"},{"x":18400,"y":25,"t":"26.1"}]},"mark":{"type":"text","align":"right","fontSize":14,"color":"#111"},"encoding":{"text":{"field":"t"}}}]}]}
]}
